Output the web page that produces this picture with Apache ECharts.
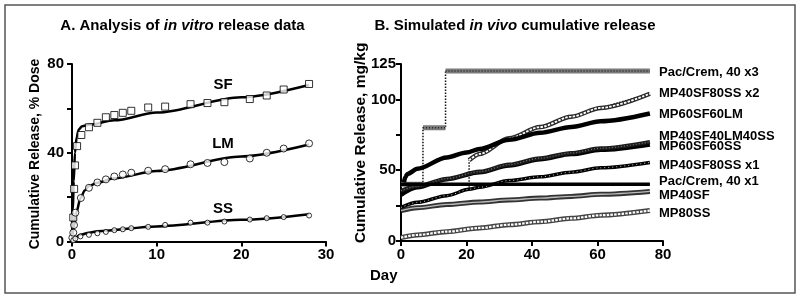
<!DOCTYPE html>
<html>
<head>
<meta charset="utf-8">
<script src="https://cdn.jsdelivr.net/npm/echarts@6/dist/echarts.min.js"></script>
<style>
  html, body { margin: 0; padding: 0; background: #fff; }
  #chart { width: 800px; height: 303px; }
</style>
</head>
<body>
<div id="chart"></div>
<script>
// ---- Panel A: in vitro release, % dose ----
var sfDay = [0.15, 0.25, 0.35, 0.6, 1.1, 2, 3, 4, 5, 6, 7, 9, 11, 14, 16, 18, 21, 23, 25, 28];
var sfVal = [10.8, 23.7, 34.3, 43, 48, 51.5, 53.5, 56, 57, 58, 58.9, 60.4, 60.8, 61.9, 62.4, 62.8, 64.2, 65.8, 68.5, 71];
var lmDay = [0.04, 0.15, 0.24, 0.4, 1.05, 2, 3, 4, 5, 6, 7, 9, 11, 14, 16, 18, 21, 23, 25, 28];
var lmVal = [1.7, 4, 7.4, 13, 19.6, 24.2, 26.6, 28, 29.3, 30.2, 31, 31.9, 32.6, 34.8, 35.4, 35.8, 37.4, 40, 41.9, 44.2];
var ssDay = [0.15, 0.4, 1, 2, 3, 4, 5, 6, 7, 9, 11, 14, 16, 18, 21, 23, 25, 28];
var ssVal = [0.5, 1.3, 2.3, 3, 3.7, 4.3, 5.1, 5.5, 6, 6.6, 7.5, 8.5, 8.5, 9, 9.9, 10.5, 11, 11.7];

// fitted curves
var sfFitDay = [0, 0.1, 0.2, 0.35, 0.55, 0.8, 1.2, 2, 5, 10, 20, 28];
var sfFitVal = [0, 14, 27, 40, 47, 50.5, 52, 52.6, 54.6, 58.1, 65, 70.5];
var lmFitDay = [0, 0.2, 0.5, 1, 1.5, 2, 3, 5, 10, 20, 28];
var lmFitVal = [0, 6, 13, 19.5, 23, 25, 26.5, 28.5, 31.8, 38.3, 43.7];
var ssFitDay = [0, 0.3, 1, 2, 3, 10, 20, 28];
var ssFitVal = [0, 1.5, 3, 4, 4.6, 6.8, 9.8, 12.3];

// ---- Panel B: simulated in vivo cumulative release, mg/kg ----
var pac3Day = [0, 6.7, 6.7, 13.6, 13.6, 76];
var pac3Val = [40, 40, 80, 80, 120, 120];
var pac1Day = [0, 76];
var pac1Val = [40, 40];
var x2Day = [0, 5, 14, 20.8, 20.8, 24, 33, 42.5, 52, 61, 76];
var x2Val = [23.7, 27.3, 32, 36.5, 57, 61.5, 72.5, 80.5, 87.8, 94, 104];
var lm60Day = [0.9, 1.3, 2, 5, 14, 20, 24, 33, 42.5, 52, 61, 76];
var lm60Val = [41.5, 45, 47.4, 51, 59, 62.5, 65, 71.5, 76.4, 80.5, 84.5, 90];
var bDay = [0, 5, 14, 24, 33, 42.5, 52, 61, 76];
var sf40lm40ssVal = [35.5, 38.8, 44, 49, 54, 58.5, 62.2, 65.5, 70];
var sf60ss60Val = [32.5, 37.8, 43.5, 48.4, 53.2, 57.6, 61.2, 64.2, 68];
var x1Day = [0, 5, 14, 20.8, 24, 33, 42.5, 52, 61, 76];
var x1Val = [23.7, 27.3, 32, 36.5, 38, 42.7, 45.3, 48.6, 51.7, 55.5];
var mp40sfVal = [21.4, 23.5, 25.8, 27.5, 29, 30.3, 31.5, 33, 35];
var mp80ssVal = [2.4, 4.3, 6.6, 9.2, 11.5, 13.6, 16, 18.2, 21.5];

var endLabels = ['Pac/Crem, 40 x3', 'MP40SF80SS x2', 'MP60SF60LM', 'MP40SF40LM40SS',
                 'MP60SF60SS', 'MP40SF80SS x1', 'Pac/Crem, 40 x1', 'MP40SF', 'MP80SS'];
var endLabelY = [72.5, 93, 114, 136, 146, 165, 181, 195, 213];

var FONT = '"Liberation Sans", Arial, sans-serif';

function pairs(days, vals) {
  return days.map(function (d, i) { return [d, vals[i]]; });
}

function axis(grid, min, max, interval, margin, fmt) {
  return {
    type: 'value', gridIndex: grid, min: min, max: max, interval: interval,
    axisLine: { show: true, onZero: false, lineStyle: { color: '#000', width: 2 } },
    axisTick: { show: true, length: 5, lineStyle: { color: '#000', width: 2 } },
    splitLine: { show: false },
    axisLabel: {
      color: '#000', fontFamily: FONT, fontWeight: 'bold', fontSize: 15, margin: margin,
      showMinLabel: true, showMaxLabel: true, formatter: fmt
    }
  };
}

function fitLine(days, vals) {
  return {
    type: 'line', xAxisIndex: 0, yAxisIndex: 0, data: pairs(days, vals),
    showSymbol: false, smooth: 0.3, smoothMonotone: 'x', z: 2,
    lineStyle: { color: '#000', width: 2.5 }
  };
}

function dots(days, vals, symbol, size) {
  return {
    type: 'scatter', xAxisIndex: 0, yAxisIndex: 0, data: pairs(days, vals),
    symbol: symbol, symbolSize: size, z: 3,
    itemStyle: { color: '#fff', borderColor: '#000', borderWidth: 1 }
  };
}

// a textured "tube": wide outer stroke plus an optional thin inner stroke
function tube(name, data, outer, wOuter, inner, wInner, innerType, smooth) {
  var s = [{
    name: name, type: 'line', xAxisIndex: 1, yAxisIndex: 1, data: data,
    showSymbol: false, smooth: smooth, smoothMonotone: 'x', connectNulls: false,
    lineStyle: { color: outer, width: wOuter, cap: 'butt' }
  }];
  if (inner) {
    s.push({
      name: name, type: 'line', xAxisIndex: 1, yAxisIndex: 1, data: data,
      showSymbol: false, smooth: smooth, smoothMonotone: 'x', connectNulls: false,
      lineStyle: { color: inner, width: wInner, type: innerType, cap: 'butt' }
    });
  }
  return s;
}

function dotted(data) {
  return {
    type: 'line', xAxisIndex: 1, yAxisIndex: 1, data: data, showSymbol: false,
    lineStyle: { color: '#111', width: 1.5, type: [1.5, 1.5] }
  };
}

// flat parts of the step profile, breaks at each dose jump
var pac3Flat = [];
pairs(pac3Day, pac3Val).forEach(function (p, i) {
  if (i > 0 && pac3Day[i] === pac3Day[i - 1]) pac3Flat.push([p[0], '-']);
  pac3Flat.push(p);
});
var x2Jump = 4;
var x2After = pairs(x2Day, x2Val).slice(x2Jump);

var seriesB = [].concat(
  tube('MP80SS', pairs(bDay, mp80ssVal), '#444', 5, '#fff', 2.2, [2.5, 1.2], 0.3),
  tube('MP40SF', pairs(bDay, mp40sfVal), '#333', 5, '#bbb', 1.3, 'solid', 0.3),
  [dotted(pairs(pac3Day, pac3Val))],
  tube('Pac/Crem, 40 x3', pac3Flat, '#7a7a7a', 5, '#222', 1.5, [1, 2], false),
  [dotted(pairs(x2Day, x2Val))],
  tube('MP40SF80SS x2', x2After, '#2a2a2a', 4.5, '#fff', 1.8, [2.5, 1.3], 0.3),
  tube('MP60SF60SS', pairs(bDay, sf60ss60Val), '#000', 4, null, 0, null, 0.3),
  tube('MP40SF40LM40SS', pairs(bDay, sf40lm40ssVal), '#1a1a1a', 4, '#777', 1.2, [1, 2], 0.3),
  tube('MP60SF60LM', pairs(lm60Day, lm60Val), '#000', 4.5, null, 0, null, 0.3),
  tube('MP40SF80SS x1', pairs(x1Day, x1Val), '#000', 3.5, '#fff', 0.8, [1, 3], 0.3),
  tube('Pac/Crem, 40 x1', pairs(pac1Day, pac1Val), '#000', 3.5, null, 0, null, false)
);

var graphics = [
  { type: 'rect', shape: { x: 5, y: 5, width: 790, height: 288 },
    style: { fill: 'none', stroke: '#555', lineWidth: 1.5 } },
  { type: 'text', x: 182.5, y: 26,
    style: { text: 'A. Analysis of {i|in vitro} release data', font: 'bold 15px ' + FONT, fill: '#000',
      align: 'center', verticalAlign: 'middle',
      rich: { i: { fontStyle: 'italic', fontWeight: 'bold', fontSize: 15, fontFamily: FONT, fill: '#000' } } } },
  { type: 'text', x: 515, y: 26,
    style: { text: 'B. Simulated {i|in vivo} cumulative release', font: 'bold 15px ' + FONT, fill: '#000',
      align: 'center', verticalAlign: 'middle',
      rich: { i: { fontStyle: 'italic', fontWeight: 'bold', fontSize: 15, fontFamily: FONT, fill: '#000' } } } },
  { type: 'text', x: 35, y: 154, rotation: Math.PI / 2,
    style: { text: 'Cumulative Release, % Dose', font: 'bold 14px ' + FONT, fill: '#000',
      align: 'center', verticalAlign: 'middle' } },
  { type: 'text', x: 361, y: 143, rotation: Math.PI / 2,
    style: { text: 'Cumulative Release, mg/kg', font: 'bold 15.5px ' + FONT, fill: '#000',
      align: 'center', verticalAlign: 'middle' } },
  { type: 'text', x: 370, y: 276,
    style: { text: 'Day', font: 'bold 15px ' + FONT, fill: '#000', align: 'left', verticalAlign: 'middle' } },
  { type: 'text', x: 223, y: 85,
    style: { text: 'SF', font: 'bold 15px ' + FONT, fill: '#000', align: 'center', verticalAlign: 'middle' } },
  { type: 'text', x: 223, y: 144,
    style: { text: 'LM', font: 'bold 15px ' + FONT, fill: '#000', align: 'center', verticalAlign: 'middle' } },
  { type: 'text', x: 223, y: 209,
    style: { text: 'SS', font: 'bold 15px ' + FONT, fill: '#000', align: 'center', verticalAlign: 'middle' } }
];
endLabels.forEach(function (t, i) {
  graphics.push({ type: 'text', x: 659, y: endLabelY[i],
    style: { text: t, font: 'bold 13px ' + FONT, fill: '#000', align: 'left', verticalAlign: 'middle' } });
});

var chart = echarts.init(document.getElementById('chart'));
chart.setOption({
  animation: false,
  backgroundColor: '#fff',
  grid: [
    { left: 72, top: 64, width: 254, height: 177.5 },
    { left: 401, top: 64, width: 262, height: 177 }
  ],
  xAxis: [
    axis(0, 0, 30, 10, 6),
    axis(1, 0, 80, 20, 6)
  ],
  yAxis: [
    axis(0, 0, 80, 20, 8, function (v) { return v % 40 === 0 ? v : ''; }),
    axis(1, 0, 125, 25, 5, function (v) { return (v % 50 === 0 || v === 125) ? v : ''; })
  ],
  series: [
    fitLine(sfFitDay, sfFitVal),
    fitLine(lmFitDay, lmFitVal),
    fitLine(ssFitDay, ssFitVal),
    dots(sfDay, sfVal, 'rect', 7),
    dots(lmDay, lmVal, 'circle', 7),
    dots(ssDay, ssVal, 'circle', 5)
  ].concat(seriesB),
  graphic: graphics
});
</script>
</body>
</html>
